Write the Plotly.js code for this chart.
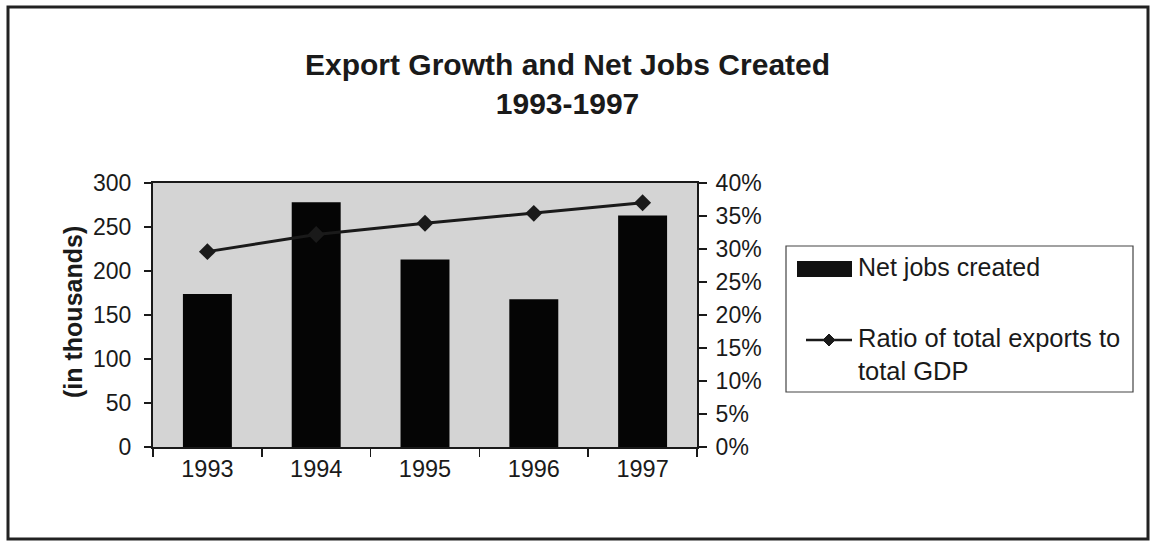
<!DOCTYPE html>
<html>
<head>
<meta charset="utf-8">
<script src="https://cdn.plot.ly/plotly-3.0.1.min.js"></script>
<style>html,body{margin:0;padding:0;background:#fff;}#chart{width:1150px;height:541px;}</style>
</head>
<body>
<div id="chart"></div>
<script>
const years = ['1993', '1994', '1995', '1996', '1997'];
const netJobs = [174, 278, 213, 168, 263];
const exportRatio = [0.296, 0.322, 0.339, 0.354, 0.370];
const leftTicks = [0, 50, 100, 150, 200, 250, 300];
const rightTicks = [0, 0.05, 0.10, 0.15, 0.20, 0.25, 0.30, 0.35, 0.40];
const rightTickText = ['0%', '5%', '10%', '15%', '20%', '25%', '30%', '35%', '40%'];
const seriesNames = ['Net jobs created', 'Ratio of total exports to<br>total GDP'];

const FONT = 'Arial, "Liberation Sans", sans-serif';
const INK = '#1a1a1a';

// plot area in pixels
const PL = 153, PR = 697, PT = 183, PB = 447;
const px = x => (x - PL) / (PR - PL);
const py = y => (PB - y) / (PB - PT);

const traces = [
  {
    type: 'bar', x: years, y: netJobs, name: seriesNames[0],
    marker: {color: '#050505', line: {width: 0}},
    yaxis: 'y'
  },
  {
    type: 'scatter', mode: 'lines+markers', x: years, y: exportRatio,
    name: seriesNames[1],
    line: {color: INK, width: 3},
    marker: {symbol: 'diamond', size: 13, color: INK},
    yaxis: 'y2'
  }
];

// diamond path for the legend
const dcx = 829, dcy = 340, dr = 6;
const diamond = `M ${px(dcx)} ${py(dcy - dr)} L ${px(dcx + dr)} ${py(dcy)} L ${px(dcx)} ${py(dcy + dr)} L ${px(dcx - dr)} ${py(dcy)} Z`;

const layout = {
  width: 1150, height: 541,
  paper_bgcolor: '#ffffff', plot_bgcolor: '#d4d4d4',
  margin: {l: PL, r: 1150 - PR, t: PT, b: 541 - PB},
  font: {family: FONT, color: INK, size: 23},
  bargap: 0.55,
  showlegend: false,
  xaxis: {
    type: 'category', showline: true, linecolor: INK, linewidth: 2, mirror: true,
    ticks: 'outside', tickson: 'boundaries', ticklen: 8, tickcolor: INK, tickwidth: 1.5,
    showgrid: false, tickfont: {size: 23.5}, zeroline: false
  },
  yaxis: {
    range: [0, 300], tickvals: leftTicks, showline: true, linecolor: INK, linewidth: 2,
    ticks: 'outside', ticklen: 7, tickcolor: INK, tickwidth: 1.5, showgrid: false, zeroline: false,
    tickfont: {size: 23}, ticklabelstandoff: 8
  },
  yaxis2: {
    overlaying: 'y', side: 'right', range: [0, 0.40], tickvals: rightTicks, ticktext: rightTickText,
    showline: true, linecolor: INK, linewidth: 2, ticks: 'outside', ticklen: 8, tickcolor: INK,
    tickwidth: 1.5, showgrid: false, zeroline: false, tickfont: {size: 23}, ticklabelstandoff: 4
  },
  annotations: [
    {xref: 'paper', yref: 'paper', x: px(567), y: py(84), xanchor: 'center', yanchor: 'middle',
     text: '<b>Export Growth and Net Jobs Created<br>1993-1997</b>', showarrow: false,
     font: {size: 30, family: FONT, color: INK}},
    {xref: 'paper', yref: 'paper', x: px(73), y: py(312), xanchor: 'center', yanchor: 'middle',
     text: '<b>(in thousands)</b>', textangle: -90, showarrow: false,
     font: {size: 25, family: FONT, color: INK}},
    {xref: 'paper', yref: 'paper', x: px(856), y: py(267), xanchor: 'left', yanchor: 'middle',
     text: seriesNames[0], showarrow: false, font: {size: 25, family: FONT, color: INK}},
    {xref: 'paper', yref: 'paper', x: px(856), y: py(354), xanchor: 'left', yanchor: 'middle', align: 'left',
     text: seriesNames[1], showarrow: false, font: {size: 25.5, family: FONT, color: INK}}
  ],
  shapes: [
    {type: 'rect', xref: 'paper', yref: 'paper', x0: px(8), x1: px(1148), y0: py(539), y1: py(7),
     line: {color: '#222', width: 3}, fillcolor: 'rgba(0,0,0,0)', layer: 'below'},
    {type: 'rect', xref: 'paper', yref: 'paper', x0: px(786), x1: px(1133), y0: py(392), y1: py(246),
     line: {color: '#444', width: 1.2}, fillcolor: '#ffffff'},
    {type: 'rect', xref: 'paper', yref: 'paper', x0: px(797), x1: px(852), y0: py(277), y1: py(261),
     line: {width: 0}, fillcolor: '#111111'},
    {type: 'line', xref: 'paper', yref: 'paper', x0: px(806), x1: px(852), y0: py(340), y1: py(340),
     line: {color: INK, width: 2.5}},
    {type: 'path', xref: 'paper', yref: 'paper', path: diamond, line: {color: INK, width: 1}, fillcolor: INK}
  ]
};

Plotly.newPlot('chart', traces, layout, {displayModeBar: false, staticPlot: true});
</script>
</body>
</html>
